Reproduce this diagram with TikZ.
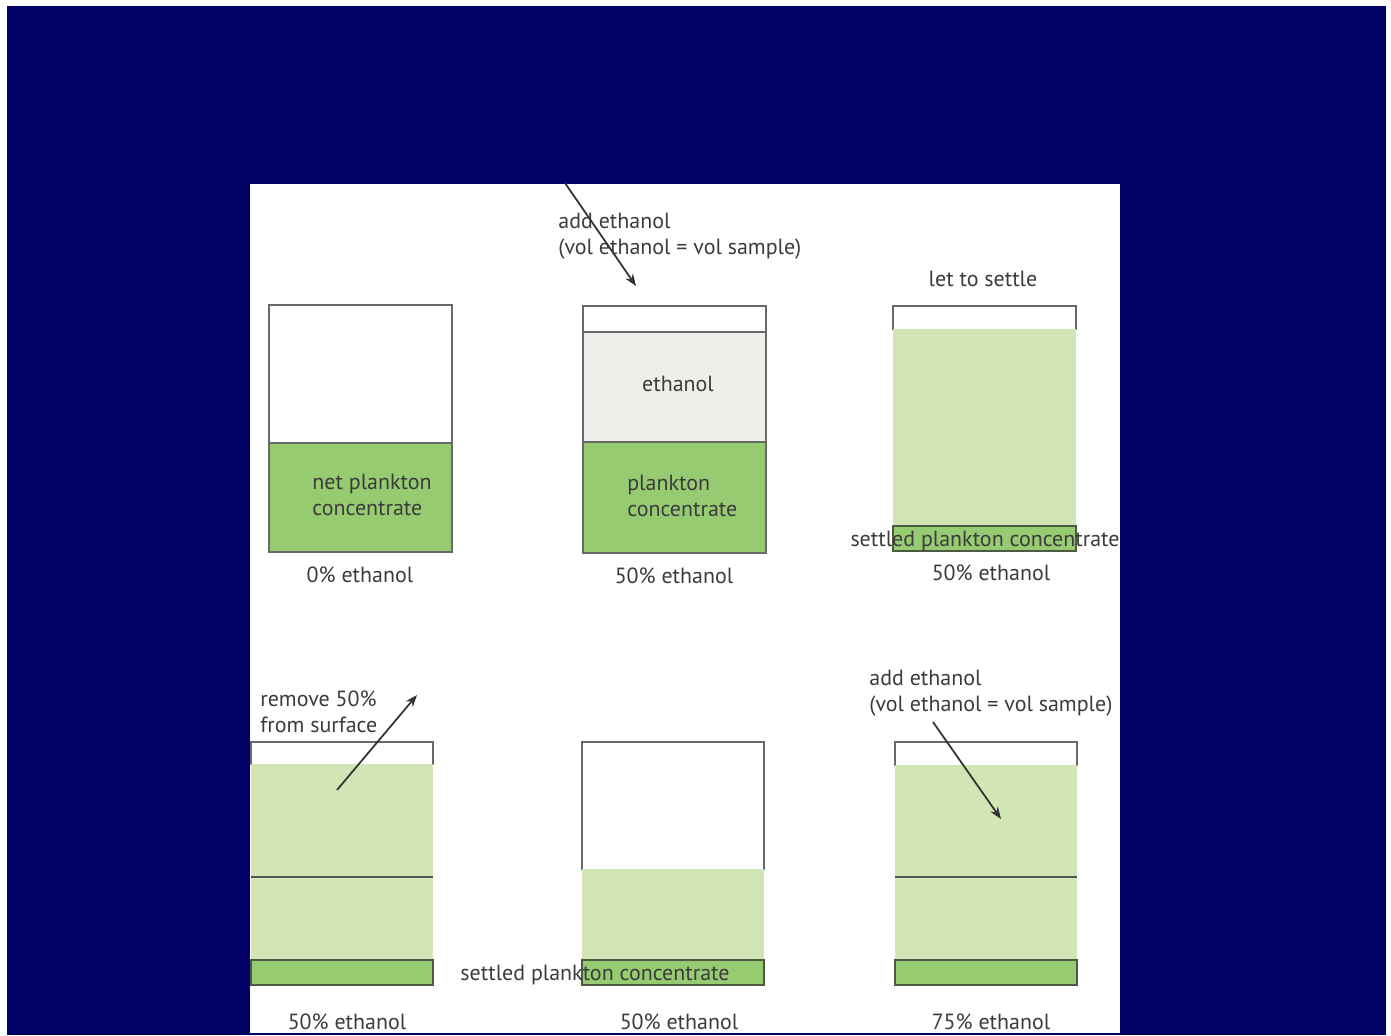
\documentclass[tikz,border=0pt]{standalone}
\usepackage{fontspec}
\setmainfont{PT Sans}
\usetikzlibrary{arrows.meta}
\definecolor{navy}{RGB}{0,0,102}
\definecolor{dgreen}{RGB}{150,203,114}
\definecolor{lgreen}{RGB}{209,229,181}
\definecolor{ethgray}{RGB}{238,238,234}
\definecolor{rim}{RGB}{105,105,105}
\definecolor{dedge}{RGB}{75,90,65}
\definecolor{txt}{RGB}{60,60,60}
\begin{document}
\begin{tikzpicture}[x=0.02cm,y=-0.02cm,
  rimline/.style={draw=rim,line width=1.2pt},
  settled/.style={fill=dgreen,draw=dedge,line width=1.2pt},
  lbl/.style={text=txt,font=\fontsize{12.5}{15}\selectfont,inner sep=0pt},
  lblL/.style={lbl,anchor=west,align=left},
  arr/.style={draw=black!80,line width=1pt,-{Stealth[length=0.24cm,width=0.18cm]}}]
\useasboundingbox (0,0) rectangle (1391,1035);
\fill[white] (0,0) rectangle (1391,1035);
\fill[navy] (7,6) rectangle (1386,1035);
\fill[white] (250,184) rectangle (1120,1033);
% ---- beaker 1
\fill[dgreen] (269,443) rectangle (452,552);
\draw[rimline] (269,305) rectangle (452,552);
\draw[rimline] (269,443) -- (452,443);
\node[lbl,align=left] (b1t) at (372,495) {net plankton\\concentrate};
\node[lbl] (b1l) at (360,575) {0\% ethanol};
% ---- beaker 2
\fill[ethgray] (583,332) rectangle (766,442);
\fill[dgreen] (583,442) rectangle (766,553);
\draw[rimline] (583,306) rectangle (766,553);
\draw[rimline] (583,332) -- (766,332);
\draw[rimline] (583,442) -- (766,442);
\node[lbl] (b2e) at (678,384) {ethanol};
\node[lblL] (b2t) at (627,496) {plankton\\concentrate};
\node[lbl] (b2l) at (674,576) {50\% ethanol};
\node[lblL] (add1) at (558,236) {add ethanol\\(vol ethanol = vol sample)};
\coordinate (a1s) at (565,183);
\coordinate (a1e) at (636,286);
\draw[arr] (a1s) -- (a1e);
% ---- beaker 3
\draw[rimline] (893,330) -- (893,306) -- (1076,306) -- (1076,330);
\fill[lgreen] (893,329) rectangle (1076,526);
\draw[settled] (893,526) rectangle (1076,551);
\node[lbl] (b3t) at (985,541) {settled plankton concentrate};
\node[lbl] (b3l) at (991,573) {50\% ethanol};
\node[lbl] (settle) at (983,279) {let to settle};
% ---- beaker 4
\draw[rimline] (251,765) -- (251,742) -- (433,742) -- (433,765);
\fill[lgreen] (251,764) rectangle (433,960);
\draw[draw=rim!80!black,line width=1.2pt] (251,877) -- (433,877);
\draw[settled] (251,960) rectangle (433,985);
\node[lbl] (b4l) at (347,1022) {50\% ethanol};
\node[lblL] (rem) at (260,712) {remove 50\%\\from surface};
\coordinate (a2s) at (337,790);
\coordinate (a2e) at (417,695);
\draw[arr] (a2s) -- (a2e);
% ---- beaker 5
\draw[rimline] (582,870) -- (582,742) -- (764,742) -- (764,870);
\fill[lgreen] (582,869) rectangle (764,960);
\draw[settled] (582,960) rectangle (764,985);
\node[lbl] (b5t) at (595,975) {settled plankton concentrate};
\node[lbl] (b5l) at (679,1022) {50\% ethanol};
% ---- beaker 6
\draw[rimline] (895,766) -- (895,742) -- (1077,742) -- (1077,766);
\fill[lgreen] (895,765) rectangle (1077,960);
\draw[draw=rim!80!black,line width=1.2pt] (895,877) -- (1077,877);
\draw[settled] (895,960) rectangle (1077,985);
\node[lblL] (add2) at (869,693) {add ethanol\\(vol ethanol = vol sample)};
\node[lbl] (b6l) at (991,1022) {75\% ethanol};
\coordinate (a3s) at (933,722);
\coordinate (a3e) at (1001,819);
\draw[arr] (a3s) -- (a3e);
\end{tikzpicture}
\end{document}
